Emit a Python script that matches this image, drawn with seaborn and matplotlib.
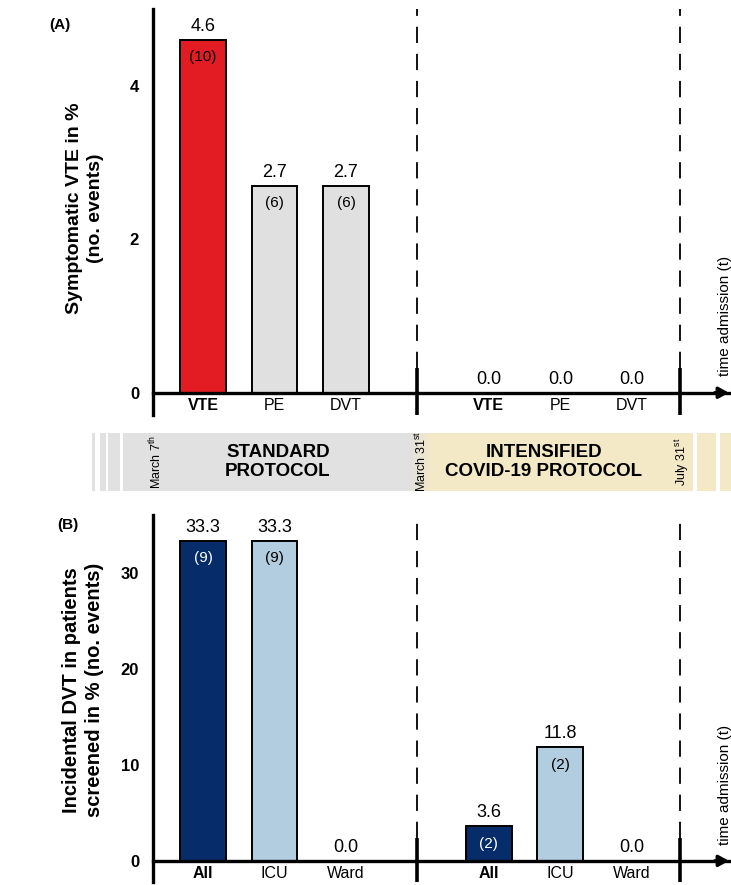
import numpy as np
import pandas as pd
import matplotlib
matplotlib.use("Agg")
import matplotlib.pyplot as plt
from matplotlib.patches import Rectangle
from matplotlib.ticker import MultipleLocator
import seaborn as sns

# ---- data -------------------------------------------------------------
periods = ["Standard protocol", "Intensified COVID-19 protocol"]

vte_outcomes = ["VTE", "PE", "DVT"]
vte_pct = [4.6, 2.7, 2.7, 0.0, 0.0, 0.0]          # standard, then intensified
vte_events = [10, 6, 6, 0, 0, 0]

dvt_settings = ["All", "ICU", "Ward"]
dvt_pct = [33.3, 33.3, 0.0, 3.6, 11.8, 0.0]
dvt_events = [9, 9, 0, 2, 2, 0]

band_labels = ["STANDARD\nPROTOCOL", "INTENSIFIED\nCOVID-19 PROTOCOL"]
date_labels = [r"March 7$^{\mathrm{th}}$", r"March 31$^{\mathrm{st}}$", r"July 31$^{\mathrm{st}}$"]

# ---- style ------------------------------------------------------------
sns.set_style("white")
plt.rcParams["font.family"] = ["Liberation Sans", "DejaVu Sans"]
plt.rcParams["mathtext.fontset"] = "custom"
plt.rcParams["mathtext.rm"] = "Liberation Sans"
plt.rcParams["mathtext.it"] = "Liberation Sans:italic"
plt.rcParams["mathtext.bf"] = "Liberation Sans:bold"
for k in ["text.color", "axes.edgecolor", "axes.labelcolor", "xtick.color", "ytick.color"]:
    plt.rcParams[k] = "black"

RED = "#e31c23"
GREY = "#e0e0e0"
NAVY = "#062d69"
LIGHTBLUE = "#b3cde0"
BAND_GREY = "#e1e1e1"
BAND_YELLOW = "#f3e9c7"

W, H = 731, 885
fig = plt.figure(figsize=(W / 100, H / 100), dpi=100)


def rect_px(left, top, right, bottom):
    return [left / W, 1 - bottom / H, (right - left) / W, (bottom - top) / H]


def build_frame(cats, pct, events):
    n = len(cats)
    rows = []
    for i, (v, e) in enumerate(zip(pct, events)):
        p_idx, c_idx = divmod(i, n)
        rows.append({"pos": p_idx * (n + 1) + c_idx, "label": cats[c_idx],
                     "period": periods[p_idx], "pct": v, "events": e})
    return pd.DataFrame(rows)


XLIM = (-0.70, 7.36)
SEP_X = [3.0, 6.67]


def style_panel(ax, df, ylim, major, minor, solid_top):
    ax.set_xlim(*XLIM)
    ax.set_ylim(*ylim)
    for s in ["top", "right"]:
        ax.spines[s].set_visible(False)
    ax.spines["left"].set_linewidth(2.4)
    ax.spines["bottom"].set_linewidth(2.4)
    ax.spines["bottom"].set_position(("data", 0))
    ax.yaxis.set_major_locator(MultipleLocator(major))
    ax.yaxis.set_minor_locator(MultipleLocator(minor))
    ax.tick_params(axis="y", which="major", length=8, width=1.8, labelsize=12, pad=2)
    ax.tick_params(axis="y", which="minor", length=5, width=1.8)
    ax.tick_params(axis="x", length=0, pad=4, labelsize=11.5)
    for lab in ax.get_yticklabels():
        lab.set_fontweight("bold")
    ax.set_xticks(df["pos"])
    ax.set_xticklabels(df["label"])
    for lab, c in zip(ax.get_xticklabels(), df["label"]):
        if c in ("VTE", "All"):
            lab.set_fontweight("bold")
    ax.set_xlabel("")
    # arrow head on the time axis
    ax.annotate("", xy=(XLIM[1], 0), xytext=(XLIM[1] - 0.2, 0),
                arrowprops=dict(arrowstyle="-|>,head_length=0.6,head_width=0.33",
                                color="black", lw=2.4, shrinkA=0, shrinkB=0),
                annotation_clip=False)
    # period separators
    for x in SEP_X:
        ax.plot([x, x], [solid_top, ylim[1]], color="black", lw=1.3,
                ls=(0, (9, 6)), clip_on=False)
        ax.plot([x, x], [ylim[0], solid_top], color="black", lw=2.6,
                solid_capstyle="butt", clip_on=False)


def label_bars(ax, df, inner_color):
    for _, r in df.iterrows():
        ax.annotate(f"{r['pct']:.1f}", (r["pos"], r["pct"]), xytext=(0, 6.5),
                    textcoords="offset points", ha="center", va="baseline", fontsize=13)
        if r["events"] > 0:
            ax.annotate(f"({r['events']})", (r["pos"], r["pct"]), xytext=(0, -12.5),
                        textcoords="offset points", ha="center", va="center",
                        fontsize=11, color=inner_color.get(r["label"], "black"))


# ---- panel A: symptomatic VTE ----------------------------------------
dfA = build_frame(vte_outcomes, vte_pct, vte_events)
axA = fig.add_axes(rect_px(153, 9.3, 729, 415))
sns.barplot(data=dfA, x="pos", y="pct", hue="label", native_scale=True,
            palette={"VTE": RED, "PE": GREY, "DVT": GREY}, saturation=1, dodge=False,
            width=0.64, edgecolor="black", linewidth=1.4, errorbar=None,
            legend=False, ax=axA)
style_panel(axA, dfA, (-0.29, 5.0), 2, 1, 0.32)
axA.set_ylabel("Symptomatic VTE in %\n(no. events)", fontsize=14,
               fontweight="bold", va="center", linespacing=1.25)
axA.yaxis.set_label_coords((85 - 153) / 576, (415 - 208) / 405.7)
label_bars(axA, dfA, {})

axA.text(7.30, 0.22, "time admission (t)", rotation=90, ha="center", va="bottom",
         fontsize=11)
fig.text(60 / W, 1 - 25 / H, "(A)", ha="center", va="center", fontsize=11, fontweight="bold")

# ---- timeline band ----------------------------------------------------
axT = fig.add_axes(rect_px(0, 433, W, 491))
axT.set_xlim(0, W)
axT.set_ylim(0, 1)
axT.axis("off")
for x0, x1 in [(92, 95), (100, 106), (108, 120), (123, 409)]:
    axT.add_patch(Rectangle((x0, 0), x1 - x0, 1, color=BAND_GREY, lw=0))
for x0, x1 in [(431, 693), (697, 716), (720, W)]:
    axT.add_patch(Rectangle((x0, 0), x1 - x0, 1, color=BAND_YELLOW, lw=0))
g0 = np.array(matplotlib.colors.to_rgb(BAND_GREY))
g1 = np.array(matplotlib.colors.to_rgb(BAND_YELLOW))
t = np.linspace(0, 1, 64)[None, :, None]
axT.imshow(g0 + (g1 - g0) * t, extent=[409, 431, 0, 1], aspect="auto", zorder=0.5)

axT.text(278, 0.5, band_labels[0], ha="center", va="center", fontsize=13.5,
         fontweight="bold", linespacing=1.15)
axT.text(544, 0.5, band_labels[1], ha="center", va="center", fontsize=13.5,
         fontweight="bold", linespacing=1.15)
for x, lab in zip([156, 421, 682], date_labels):
    axT.text(x, 0.5, lab, rotation=90, ha="center", va="center", fontsize=9)

# ---- panel B: incidental DVT -----------------------------------------
dfB = build_frame(dvt_settings, dvt_pct, dvt_events)
axB = fig.add_axes(rect_px(153, 515, 729, 882))
sns.barplot(data=dfB, x="pos", y="pct", hue="label", native_scale=True,
            palette={"All": NAVY, "ICU": LIGHTBLUE, "Ward": LIGHTBLUE}, saturation=1,
            dodge=False, width=0.64, edgecolor="black", linewidth=1.4, errorbar=None,
            legend=False, ax=axB)
style_panel(axB, dfB, (-2.2, 36.0), 10, 5, 2.4)
axB.set_ylabel("Incidental DVT in patients\nscreened in % (no. events)", fontsize=14.5,
               fontweight="bold", va="center", linespacing=1.25)
axB.yaxis.set_label_coords((83 - 153) / 576, (882 - 690) / 367)
label_bars(axB, dfB, {"All": "white"})

axB.text(7.30, 1.7, "time admission (t)", rotation=90, ha="center", va="bottom",
         fontsize=11)
fig.text(68 / W, 1 - 525 / H, "(B)", ha="center", va="center", fontsize=11, fontweight="bold")

fig.savefig("out.png", dpi=100)
